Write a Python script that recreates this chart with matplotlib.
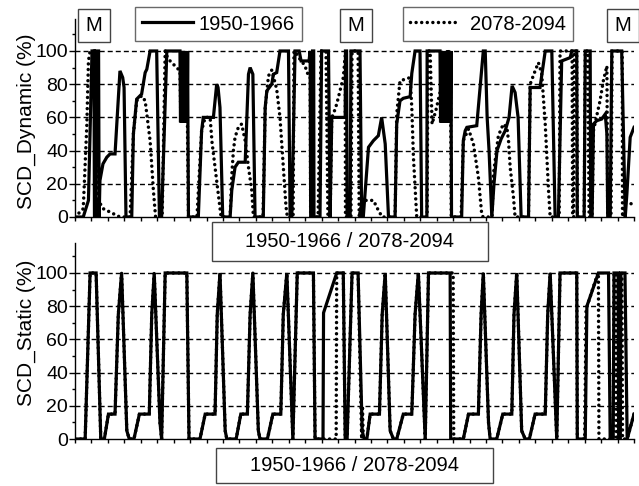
import matplotlib
matplotlib.use("Agg")
import matplotlib.pyplot as plt
from matplotlib.patches import Rectangle

plt.rcParams['font.family'] = ['Liberation Sans', 'DejaVu Sans']

# time axis: months since start of each 17-year period (0..204)
# ---- SCD dynamic, 1950-1966 (solid)
dyn_hist_t = [0, 3.0, 4.9, 6.2, 6.9, 7.1, 7.5, 7.7, 8.6, 8.8, 9.1, 10.2, 11.6, 12.8, 14.6, 15.2, 16.4, 17.4, 17.9, 18.6,
              20.7, 21.3, 22.5, 24.3, 25.6, 26.2, 27.4, 29.8, 30.8, 31.6, 33.5, 38.3,
              38.5, 38.7, 38.9, 39.1, 39.3, 39.5, 39.7, 39.9, 40.1, 40.3, 40.5, 40.7, 40.9, 41.1, 41.2, 41.4,
              45.0, 46.2, 46.8, 50.5, 51.7, 52.2, 52.9, 53.9, 56.6, 57.2, 58.4, 59.6, 62.1, 63.3, 63.9, 64.9, 65.7,
              68.7, 69.4, 70.0, 71.8, 72.4, 73.6, 74.8, 77.9, 78.5, 79.1, 80.3, 81.8, 82.5, 85.4, 85.8, 86.0,
              86.5, 86.7, 87.1, 87.2, 89.4, 90.0, 92.5, 93.1, 93.7, 98.6, 98.7, 99.1, 99.3, 100.4, 100.7, 104.0, 104.6,
              105.2, 107.1, 108.9, 110.7, 111.9, 113.2, 114.4, 116.8, 117.4, 118.6, 119.8, 122.3, 122.9, 124.1, 125.9,
              126.5, 128.4, 128.5, 133.2,
              133.4, 133.6, 133.8, 134.0, 134.2, 134.4, 134.6, 134.8, 135.0, 135.2, 135.4, 135.6, 135.8, 136.0,
              136.2, 136.4, 136.6, 136.8, 137.0, 137.2, 137.4,
              141.1, 141.7, 142.4, 143.0, 146.6, 149.0, 149.7, 150.4, 151.1, 152.1, 152.9, 154.0, 155.5, 157.0, 158.4,
              159.5, 160.6, 161.7, 162.8, 165.5, 166.1, 169.7, 171.6, 174.0, 175.2, 176.4, 177.6, 180.7, 181.3, 183.1,
              183.3, 185.8, 186.2, 188.0, 188.2, 188.7, 189.2, 190.4, 192.2, 193.5, 194.1, 194.4, 195.3, 195.9, 199.5,
              200.8, 201.4, 202.6, 204.0]
dyn_hist_v = [0, 0, 10, 100, 100, 0, 0, 100, 100, 0, 22, 32, 36, 38, 38, 55, 88, 84, 78, 0,
              0, 50, 71, 74, 87, 89, 100, 100, 0, 0, 100, 100,
              57, 100, 57, 100, 57, 100, 57, 100, 57, 100, 57, 100, 57, 100, 57, 0,
              0, 52, 60, 60, 80, 78, 66, 0, 0, 16, 30, 33, 33, 86, 90, 86, 0,
              0, 66, 76, 80, 86, 87, 100, 100, 0, 0, 100, 100, 94, 94, 100, 0,
              0, 100, 100, 0, 0, 100, 100, 0, 60, 60, 100, 100, 0, 0, 100, 100, 0,
              0, 42, 46, 49, 60, 44, 0, 0, 56, 70, 71.5, 72.5, 86.5, 100, 100,
              0, 0, 100, 100,
              57, 100, 57, 100, 57, 100, 57, 100, 57, 100, 57, 100, 57, 100,
              57, 100, 57, 100, 57, 100, 0,
              0, 46, 52, 54, 55, 100, 100, 60, 40, 0, 20, 40, 47, 52, 60,
              79, 75, 60, 0, 0, 78, 78, 100, 100, 0, 0, 94, 96, 100, 100,
              0, 0, 100, 100, 0, 0, 56, 58, 59, 62, 50, 0, 0, 100, 100,
              0, 14, 48, 54]

# ---- SCD dynamic, 2078-2094 (dotted)
dyn_fut_t = [0, 3.0, 4.3, 4.9, 5.5, 7.9, 8.2, 8.5, 10.3, 14.0, 16.4, 20.1, 21.3, 22.5, 24.3, 25.6, 27.4, 28.6, 29.4,
             31.8, 32.9, 33.5, 34.7, 37.1, 38.3, 38.6, 38.9, 39.2, 39.5, 39.8, 40.1, 40.4, 40.7, 41.0, 41.4,
             44.5, 46.2, 47.5, 49.3, 50.0, 51.1, 52.2, 53.3, 56.6, 57.2, 57.8, 58.4, 59.6, 60.8, 62.1, 63.3, 64.5, 65.1,
             68.6, 69.4, 70.6, 71.8, 73.6, 74.8, 76.0, 77.0, 77.5, 79.6, 79.9, 80.9, 82.1, 84.0, 84.6, 85.8, 86.0,
             88.7, 89.8, 91.6, 92.3, 93.1, 93.7, 94.3, 95.5, 96.7, 97.9, 98.6, 98.7, 100.7, 101.1, 103.3, 103.7,
             104.8, 108.9, 110.7, 112.1, 116.8, 117.4, 118.6, 120.5, 122.3, 122.9, 123.5, 124.7, 128.5, 128.8, 129.6,
             130.3, 131.8, 133.2, 134.3, 134.6, 134.9, 135.2, 135.5, 135.8, 136.1, 136.4, 136.7, 137.0, 137.3,
             140.9, 141.7, 143.6, 145.4, 147.2, 148.4, 148.9, 152.2, 152.7, 154.5, 156.3, 157.6, 158.2, 158.8, 160.0,
             160.6, 165.5, 166.1, 167.9, 169.1, 170.3, 171.6, 172.8, 173.4, 176.7, 177.0, 181.4, 181.6, 182.0, 182.2,
             183.1, 183.3, 185.8, 186.2, 187.2, 187.6, 188.7, 189.2, 191.6, 192.8, 194.1, 194.4, 195.6, 196.0, 199.7,
             199.8, 200.8, 204.0]
dyn_fut_v = [0, 5, 55, 94, 100, 100, 0, 10, 5, 2, 0, 0, 50, 70, 73, 70, 46, 16, 0,
             0, 100, 97, 94, 90, 88, 60, 95, 58, 95, 60, 95, 58, 95, 60, 0,
             0, 52, 60, 60, 45, 30, 15, 0, 0, 25, 40, 48, 54, 56, 46, 30, 16, 0,
             0, 66, 85, 88.5, 77, 60, 30, 6, 0, 0, 100, 98, 95, 91, 87, 85, 0,
             0, 100, 100, 0, 0, 60, 62, 68, 76, 84, 97, 0, 0, 100, 100, 0,
             10, 10, 4, 0, 0, 62, 82, 83, 84, 66, 36, 0, 0, 100, 100,
             56, 65, 75, 80, 100, 60, 100, 60, 100, 60, 100, 60, 100, 0,
             0, 46, 53, 44, 24, 2, 0, 0, 26, 49, 56, 54, 46, 30, 12,
             0, 0, 80, 88, 93, 86.5, 56, 16, 0, 0, 100, 100, 0, 0, 100,
             100, 0, 0, 100, 100, 0, 0, 52, 70, 82, 91, 0, 0, 100, 100,
             0, 8, 8]

# ---- SCD static, 1950-1966 (solid)
sta_hist_t = [0, 3.7, 5.5, 7.7, 9.4, 10.7, 12.2, 14.6, 15.8, 17.0, 18.9, 19.8, 21.5, 23.5, 27.1, 28.0, 28.9, 31.0, 31.6,
              32.9, 40.8, 41.6, 45.6, 47.5, 51.1, 51.9, 52.9, 54.8, 55.4, 58.8, 60.5, 62.9, 63.9, 64.9, 66.9, 67.5,
              70.2, 72.2, 75.1, 76.0, 77.3, 79.5, 81.1, 87.0, 87.6, 90.5, 90.7, 95.5, 97.9, 98.6, 99.3, 101.1, 103.3,
              104.8, 105.5, 106.5, 107.7, 111.1, 112.1, 113.2, 115.0, 116.2, 117.4, 119.8, 122.9, 124.1, 125.3, 127.8,
              129.0, 136.9, 137.1, 141.7, 143.6, 147.2, 148.2, 149.0, 150.9, 151.5, 153.9, 156.1, 159.4, 160.2, 161.2,
              163.0, 164.3, 165.8, 167.9, 171.6, 172.5, 173.4, 175.8, 177.0, 183.1, 183.3, 186.2, 186.8, 191.0, 194.7,
              195.3, 196.4, 196.7, 198.2, 198.4, 199.0, 199.2, 200.7, 201.5, 204.0]
sta_hist_v = [0, 0, 100, 100, 0, 0, 15, 15, 75, 100, 5, 0, 0, 15, 15, 75, 100, 10, 0,
              100, 100, 0, 0, 15, 15, 75, 100, 5, 0, 0, 15, 15, 75, 100, 5, 0,
              0, 15, 15, 75, 100, 0, 100, 100, 0, 0, 76, 100, 100, 0, 0, 100, 100,
              5, 0, 0, 15, 15, 75, 100, 5, 0, 0, 15, 15, 75, 100, 0,
              100, 100, 0, 0, 15, 15, 75, 100, 10, 0, 0, 15, 15, 75, 100,
              5, 0, 0, 15, 15, 75, 100, 0, 100, 100, 0, 0, 80, 100, 100,
              0, 0, 100, 100, 0, 0, 100, 100, 0, 15]

# ---- SCD static, 2078-2094 (dotted)
sta_fut_t = [0, 3.7, 5.5, 7.7, 9.4, 10.7, 12.2, 14.6, 15.8, 17.0, 18.9, 19.8, 21.5, 23.5, 27.1, 28.0, 28.9, 31.0, 31.6,
             32.9, 40.8, 41.6, 45.6, 47.5, 51.1, 51.9, 52.9, 54.8, 55.4, 58.8, 60.5, 62.9, 63.9, 64.9, 66.9, 67.5,
             70.2, 72.2, 75.1, 76.0, 77.3, 79.5, 81.1, 87.0, 87.6, 95.3, 95.5, 97.9, 98.6, 99.3, 101.1, 103.3,
             104.6, 104.9, 105.2, 106.5, 107.7, 111.1, 112.1, 113.2, 115.0, 116.2, 117.4, 119.8, 122.9, 124.1, 125.3,
             127.8, 129.0, 138.0, 138.2, 141.7, 143.6, 147.2, 148.2, 149.0, 150.9, 151.5, 153.9, 156.1, 159.4, 160.2,
             161.2, 163.0, 164.3, 165.8, 167.9, 171.6, 172.5, 173.4, 175.8, 177.0, 183.1, 183.3, 186.0, 186.5, 190.8,
             191.0, 191.2, 196.4, 196.7, 197.4, 197.6, 198.6, 198.8, 199.6, 199.8, 201.5, 204.0]
sta_fut_v = [0, 0, 100, 100, 0, 0, 15, 15, 75, 100, 5, 0, 0, 15, 15, 75, 100, 10, 0,
             100, 100, 0, 0, 15, 15, 75, 100, 5, 0, 0, 15, 15, 75, 100, 5, 0,
             0, 15, 15, 75, 100, 0, 100, 100, 0, 0, 100, 100, 0, 0, 100, 100,
             0, 20, 0, 0, 15, 15, 75, 100, 5, 0, 0, 15, 15, 75, 100,
             0, 100, 100, 0, 0, 15, 15, 75, 100, 10, 0, 0, 15, 15, 75,
             100, 5, 0, 0, 15, 15, 75, 100, 0, 100, 100, 0, 0, 78, 100,
             100, 0, 0, 100, 100, 0, 0, 100, 100, 0, 0, 15]

xticks = list(range(0, 205, 6))
yticks = [0, 20, 40, 60, 80, 100]

solid_kw = dict(color='black', lw=2.3, solid_joinstyle='miter')
dot_kw = dict(color='black', lw=2.5, linestyle=(0, (0.01, 1.6)), dash_capstyle='round')

fig = plt.figure(figsize=(6.39, 4.86), dpi=100)
ax1 = fig.add_axes([0.1174, 0.5535, 0.8748, 0.4065])
ax2 = fig.add_axes([0.1174, 0.0967, 0.8748, 0.4031])

h1, = ax1.plot(dyn_hist_t, dyn_hist_v, **solid_kw)
h2, = ax1.plot(dyn_fut_t, dyn_fut_v, **dot_kw)
ax2.plot(sta_hist_t, sta_hist_v, **solid_kw)
ax2.plot(sta_fut_t, sta_fut_v, **dot_kw)

for ax, top in ((ax1, 119), (ax2, 118)):
    ax.set_xlim(0, 204)
    ax.set_ylim(0, top)
    ax.set_xticks(xticks)
    ax.set_xticklabels([])
    ax.set_yticks(yticks)
    ax.set_yticks(range(10, 120, 20), minor=True)
    ax.tick_params(axis='y', which='major', length=4, width=1, labelsize=14, pad=1)
    ax.tick_params(axis='y', which='minor', length=2.5, width=1)
    ax.tick_params(axis='x', length=3, width=1)
    ax.spines['top'].set_visible(False)
    ax.spines['right'].set_visible(False)
    ax.spines['left'].set_linewidth(1)
    ax.spines['bottom'].set_linewidth(1)
    for y in yticks[1:]:
        ax.axhline(y, color='black', lw=1, linestyle=(0, (3.6, 2.2)), zorder=0)
    ax.patch.set_alpha(0)

fig.text(0.042, 0.751, 'SCD_Dynamic (%)', rotation=90, ha='center', va='center', fontsize=15)
fig.text(0.042, 0.315, 'SCD_Static (%)', rotation=90, ha='center', va='center', fontsize=15)

# legends (two separate boxes)
leg_kw = dict(loc='center', fontsize=14.5, frameon=True, fancybox=False, edgecolor='#444444',
              borderpad=0.35, borderaxespad=0)
leg1 = fig.legend([h1], ['1950-1966'], bbox_to_anchor=(0.342, 0.9506), handlelength=2.5,
                  handletextpad=0.3, **leg_kw)
leg2 = fig.legend([h2], ['2078-2094'], bbox_to_anchor=(0.7637, 0.9506), handlelength=2.4,
                  handletextpad=0.55, **leg_kw)
for leg in (leg1, leg2):
    leg.get_frame().set_linewidth(1)

# month markers
for xm in (0.147, 0.557, 0.975):
    fig.text(xm, 0.9475, 'M', ha='center', va='center', fontsize=14.5,
             bbox=dict(boxstyle='square,pad=0.36', fc='white', ec='#444444', lw=1))

# period labels under each panel
for (x0, y0, w, h), (tx, ty) in (((0.3318, 0.463, 0.4319, 0.080), (0.5477, 0.503)),
                                 ((0.338, 0.0062, 0.433, 0.072), (0.554, 0.042))):
    fig.add_artist(Rectangle((x0, y0), w, h, transform=fig.transFigure, fill=False, ec='#444444', lw=1))
    fig.text(tx, ty, '1950-1966 / 2078-2094', ha='center', va='center', fontsize=14.5)

fig.savefig('out.png', dpi=100)
